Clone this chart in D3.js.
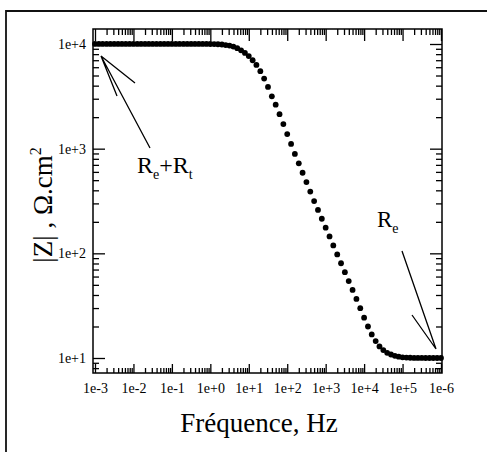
<!DOCTYPE html>
<html>
<head>
<meta charset="utf-8">
<script src="https://cdn.jsdelivr.net/npm/d3@7"></script>
<style>
  body { margin: 0; background: #fff; }
  text { font-family: "Liberation Serif", "DejaVu Serif", serif; fill: #000; }
</style>
</head>
<body>
<script>
// size of the page
var w = 487;
var h = 452;

// frequency (Hz), 10 points per decade
var freq = [
  1e-3, 1.26e-3, 1.58e-3, 2e-3, 2.51e-3, 3.16e-3, 3.98e-3, 5.01e-3, 6.31e-3, 7.94e-3,
  1e-2, 1.26e-2, 1.58e-2, 2e-2, 2.51e-2, 3.16e-2, 3.98e-2, 5.01e-2, 6.31e-2, 7.94e-2,
  1e-1, 1.26e-1, 1.58e-1, 2e-1, 2.51e-1, 3.16e-1, 3.98e-1, 5.01e-1, 6.31e-1, 7.94e-1,
  1, 1.26, 1.58, 2, 2.51, 3.16, 3.98, 5.01, 6.31, 7.94,
  10, 12.6, 15.8, 20, 25.1, 31.6, 39.8, 50.1, 63.1, 79.4,
  100, 126, 158, 200, 251, 316, 398, 501, 631, 794,
  1e3, 1.26e3, 1.58e3, 2e3, 2.51e3, 3.16e3, 3.98e3, 5.01e3, 6.31e3, 7.94e3,
  1e4, 1.26e4, 1.58e4, 2e4, 2.51e4, 3.16e4, 3.98e4, 5.01e4, 6.31e4, 7.94e4,
  1e5, 1.26e5, 1.58e5, 2e5, 2.51e5, 3.16e5, 3.98e5, 5.01e5, 6.31e5, 7.94e5,
  1e6
];

// |Z| (ohm.cm2)
var modulus = [
  10010, 10010, 10010, 10010, 10010, 10010, 10010, 10010, 10010, 10010,
  10010, 10010, 10010, 10010, 10010, 10010, 10010, 10010, 10010, 10010,
  10010, 10010, 10010, 10010, 10010, 10010, 10010, 10010, 10010, 10010,
  10000, 9980, 9950, 9886, 9772, 9661, 9441, 9120, 8710, 8222,
  7674, 6998, 6310, 5495, 4677, 3890, 3162, 2630, 2138, 1718,
  1380, 1109, 891, 724, 589, 479, 389, 316, 260, 214,
  176, 145, 119, 97.7, 80.4, 66.1, 54.3, 44.7, 36.7, 29.9,
  24.3, 20.0, 16.8, 14.5, 12.9, 11.9, 11.2, 10.8, 10.5, 10.3,
  10.16, 10.1, 10.05, 10.02, 10.01, 10.01, 10, 10, 10, 10,
  10
];

// axis ticks and their labels (as printed on the figure)
var xMajor = [1e-3, 1e-2, 1e-1, 1, 10, 100, 1e3, 1e4, 1e5, 1e6];
var xTickLabels = ["1e-3", "1e-2", "1e-1", "1e+0", "1e+1", "1e+2", "1e+3", "1e+4", "1e+5", "1e-6"];
var yMajor = [10, 100, 1000, 10000];
var yTickLabels = ["1e+1", "1e+2", "1e+3", "1e+4"];

// plot box
var boxL = 93, boxR = 442, boxT = 29, boxB = 373;

var x = d3.scaleLog()
    .domain([1e-3, 1e6])
    .range([95, 441]);

var y = d3.scaleLog()
    .domain([10, 10000])
    .range([358, 44]);

var svg = d3.select("body")
    .append("svg")
    .attr("width", w)
    .attr("height", h);

svg.append("rect")
    .attr("width", w)
    .attr("height", h)
    .attr("fill", "#fff");

// outer frame (top and left edges of the scanned page)
svg.append("path")
    .attr("d", "M6," + h + "V11H" + w)
    .attr("fill", "none")
    .attr("stroke", "#111")
    .attr("stroke-width", 1.8);

// minor ticks = log ticks that are not decades
var xMinor = x.ticks().filter(function(d) { return xMajor.indexOf(d) < 0; });
var yMinor = d3.scaleLog().domain([7.5, 13000]).ticks()
    .filter(function(d) { return yMajor.indexOf(d) < 0 && y(d) > boxT && y(d) < boxB; });

function styleAxis(g) {
  g.select(".domain").remove();
  g.selectAll(".tick line").attr("stroke", "#000").attr("stroke-width", 1.3);
  g.selectAll(".tick text")
      .style("font-family", "'Liberation Serif', serif")
      .style("font-size", "14px")
      .attr("fill", "#000");
}

// bottom
svg.append("g")
    .attr("transform", "translate(0," + boxB + ")")
    .call(d3.axisBottom(x).tickValues(xMajor)
        .tickFormat(function(d, i) { return xTickLabels[i]; })
        .tickSizeInner(-9).tickSizeOuter(0).tickPadding(10))
    .call(styleAxis);
svg.append("g")
    .attr("transform", "translate(0," + boxB + ")")
    .call(d3.axisBottom(x).tickValues(xMinor).tickFormat("")
        .tickSizeInner(-5).tickSizeOuter(0))
    .call(styleAxis);

// top
svg.append("g")
    .attr("transform", "translate(0," + boxT + ")")
    .call(d3.axisTop(x).tickValues(xMajor).tickFormat("")
        .tickSizeInner(-12).tickSizeOuter(0))
    .call(styleAxis);
svg.append("g")
    .attr("transform", "translate(0," + boxT + ")")
    .call(d3.axisTop(x).tickValues(xMinor).tickFormat("")
        .tickSizeInner(-6).tickSizeOuter(0))
    .call(styleAxis);

// left
svg.append("g")
    .attr("transform", "translate(" + boxL + ",0)")
    .call(d3.axisLeft(y).tickValues(yMajor)
        .tickFormat(function(d, i) { return yTickLabels[i]; })
        .tickSizeInner(-12).tickSizeOuter(0).tickPadding(7))
    .call(styleAxis);
svg.append("g")
    .attr("transform", "translate(" + boxL + ",0)")
    .call(d3.axisLeft(y).tickValues(yMinor).tickFormat("")
        .tickSizeInner(-6).tickSizeOuter(0))
    .call(styleAxis);

// right
svg.append("g")
    .attr("transform", "translate(" + boxR + ",0)")
    .call(d3.axisRight(y).tickValues(yMajor).tickFormat("")
        .tickSizeInner(-12).tickSizeOuter(0))
    .call(styleAxis);
svg.append("g")
    .attr("transform", "translate(" + boxR + ",0)")
    .call(d3.axisRight(y).tickValues(yMinor).tickFormat("")
        .tickSizeInner(-6).tickSizeOuter(0))
    .call(styleAxis);

// plot box
svg.append("rect")
    .attr("x", boxL)
    .attr("y", boxT)
    .attr("width", boxR - boxL)
    .attr("height", boxB - boxT)
    .attr("fill", "none")
    .attr("stroke", "#000")
    .attr("stroke-width", 1.5);

// data points
svg.selectAll("circle")
    .data(freq)
    .enter()
    .append("circle")
    .attr("cx", function(d) { return x(d); })
    .attr("cy", function(d, i) { return y(modulus[i]); })
    .attr("r", 2.9)
    .attr("fill", "#000");

// annotation: Re+Rt arrow, tip at the first point
var tip1x = x(freq[0]) + 6, tip1y = y(modulus[0]) + 12;
svg.append("path")
    .attr("d", "M" + (tip1x + 49) + "," + (tip1y + 92) + "L" + tip1x + "," + tip1y +
               "L" + (tip1x + 34) + "," + (tip1y + 27) +
               "M" + tip1x + "," + tip1y + "L" + (tip1x + 16) + "," + (tip1y + 40))
    .attr("fill", "none")
    .attr("stroke", "#000")
    .attr("stroke-width", 1.3);

var t1 = svg.append("text")
    .attr("x", 137)
    .attr("y", 173)
    .style("font-size", "24px");
t1.append("tspan").text("R");
t1.append("tspan").attr("dy", 6).style("font-size", "14px").text("e");
t1.append("tspan").attr("dy", -6).text("+R");
t1.append("tspan").attr("dy", 6).style("font-size", "14px").text("t");

// annotation: Re arrow, tip at the last point
var n = freq.length - 1;
var tip2x = x(freq[n]) - 5, tip2y = y(modulus[n]) - 9;
svg.append("path")
    .attr("d", "M" + (tip2x - 34) + "," + (tip2y - 98) + "L" + tip2x + "," + tip2y +
               "L" + (tip2x - 24) + "," + (tip2y - 34))
    .attr("fill", "none")
    .attr("stroke", "#000")
    .attr("stroke-width", 1.3);

var t2 = svg.append("text")
    .attr("x", 377)
    .attr("y", 227)
    .style("font-size", "23px");
t2.append("tspan").text("R");
t2.append("tspan").attr("dy", 6).style("font-size", "14px").text("e");

// axis titles
svg.append("text")
    .attr("x", 259)
    .attr("y", 432)
    .attr("text-anchor", "middle")
    .style("font-size", "27px")
    .text("Fréquence, Hz");

var yt = svg.append("text")
    .attr("transform", "translate(52,205) rotate(-90)")
    .attr("text-anchor", "middle")
    .style("font-size", "27px");
yt.append("tspan").text("|Z| , Ω.cm");
yt.append("tspan").attr("dy", -11).style("font-size", "16px").text("2");
</script>
</body>
</html>
